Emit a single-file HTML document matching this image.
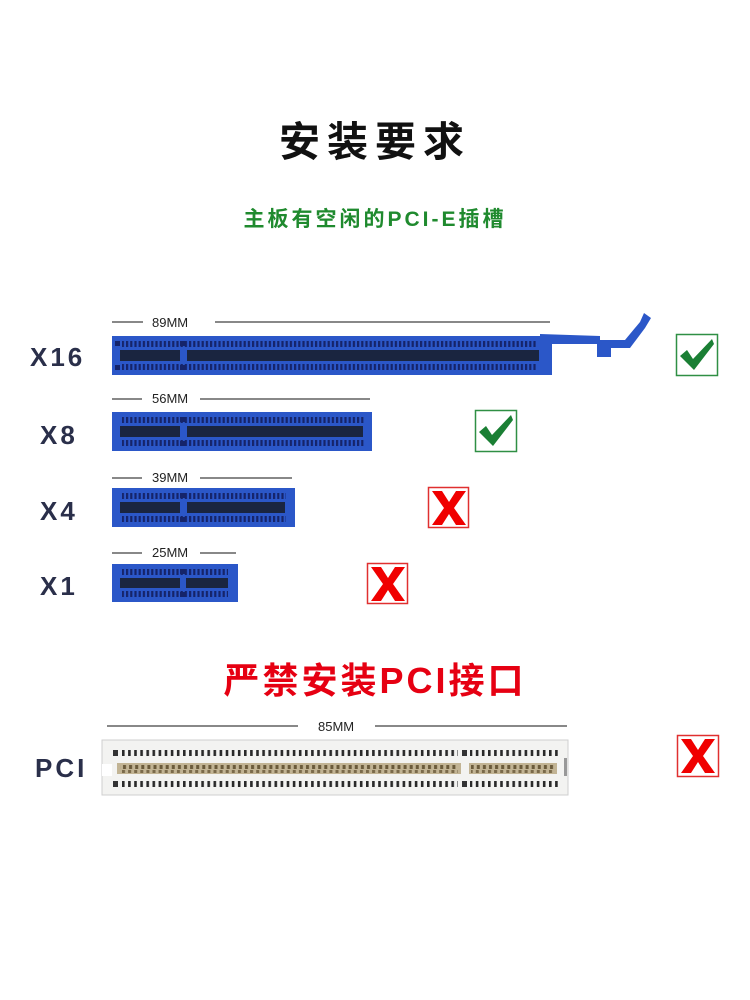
<!DOCTYPE html>
<html><head><meta charset="utf-8"><style>
body{margin:0;background:#fff;}
svg{display:block}
</style></head><body>
<svg width="750" height="1000" viewBox="0 0 750 1000" xmlns="http://www.w3.org/2000/svg">
<defs>
<pattern id="bp" x="0" y="0" width="4.2" height="10" patternUnits="userSpaceOnUse"><rect x="0" y="0" width="2.2" height="10" fill="#15246a"/></pattern>
<pattern id="gp" x="0" y="0" width="6.1" height="10" patternUnits="userSpaceOnUse"><rect x="0" y="0" width="2.6" height="10" fill="#2a2a2a"/></pattern>
<pattern id="mp" x="0" y="0" width="6.1" height="10" patternUnits="userSpaceOnUse"><rect x="0" y="0" width="3" height="3" fill="#7a6a4a"/><rect x="1" y="5" width="3" height="4" fill="#6a5a3a"/></pattern>
<path id="xm" d="M0,0 L10,0 L17,11 L24,0 L34,0 L22,17 L34,34 L24,34 L17,23 L10,34 L0,34 L12,17 Z"/>
</defs>
<g font-family="'Liberation Sans','Noto Sans CJK SC',sans-serif">
<text x="375" y="156" text-anchor="middle" font-size="41" font-weight="bold" fill="#111" letter-spacing="7">安装要求</text>
<text x="375" y="226" text-anchor="middle" font-size="21" font-weight="bold" fill="#1f8a2e" letter-spacing="3">主板有空闲的PCI-E插槽</text>

<g font-size="26" font-weight="bold" fill="#2a2f4a" letter-spacing="3">
<text x="30" y="366">X16</text><text x="40" y="444">X8</text><text x="40" y="520">X4</text><text x="40" y="595">X1</text><text x="35" y="777">PCI</text>
</g>
<g font-size="13" fill="#222" stroke="#111">
<line x1="112" y1="322" x2="143" y2="322"/><line x1="215" y1="322" x2="550" y2="322"/>
<line x1="112" y1="399" x2="142" y2="399"/><line x1="200" y1="399" x2="370" y2="399"/>
<line x1="112" y1="478" x2="142" y2="478"/><line x1="200" y1="478" x2="292" y2="478"/>
<line x1="112" y1="553" x2="142" y2="553"/><line x1="200" y1="553" x2="236" y2="553"/>
<line x1="107" y1="726" x2="298" y2="726"/><line x1="375" y1="726" x2="567" y2="726"/>
</g>
<g font-size="13" fill="#222">
<text x="152" y="327">89MM</text><text x="152" y="403">56MM</text><text x="152" y="482">39MM</text><text x="152" y="557">25MM</text><text x="318" y="731">85MM</text>
</g>

<!-- X16 -->
<path d="M540,334 L600,336 L600,344 L540,344Z" fill="#2b57c8"/>
<rect x="597" y="340" width="14" height="17" fill="#2b57c8"/>
<path d="M598,340 L625,340 L640,322 L644,313 L651,318 L645,328 L630,348 L598,348Z" fill="#2b57c8"/>
<rect x="112" y="336" width="440" height="39" fill="#2b57c8"/>
<rect x="122" y="341" width="415" height="6" fill="url(#bp)"/>
<rect x="122" y="364" width="415" height="6" fill="url(#bp)"/>
<rect x="120" y="350" width="60" height="11" fill="#1a2540"/>
<rect x="187" y="350" width="352" height="11" fill="#1a2540"/>
<rect x="115" y="341" width="5" height="5" fill="#15246a"/><rect x="115" y="365" width="5" height="5" fill="#15246a"/>
<rect x="180" y="341" width="5" height="5" fill="#15246a"/><rect x="180" y="365" width="5" height="5" fill="#15246a"/>

<!-- X8 -->
<rect x="112" y="412" width="260" height="39" fill="#2b57c8"/>
<rect x="122" y="417" width="242" height="6" fill="url(#bp)"/>
<rect x="122" y="440" width="242" height="6" fill="url(#bp)"/>
<rect x="120" y="426" width="60" height="11" fill="#1a2540"/>
<rect x="187" y="426" width="176" height="11" fill="#1a2540"/>
<rect x="180" y="417" width="5" height="5" fill="#15246a"/><rect x="180" y="441" width="5" height="5" fill="#15246a"/>

<!-- X4 -->
<rect x="112" y="488" width="183" height="39" fill="#2b57c8"/>
<rect x="122" y="493" width="164" height="6" fill="url(#bp)"/>
<rect x="122" y="516" width="164" height="6" fill="url(#bp)"/>
<rect x="120" y="502" width="60" height="11" fill="#1a2540"/>
<rect x="187" y="502" width="98" height="11" fill="#1a2540"/>
<rect x="180" y="493" width="5" height="5" fill="#15246a"/><rect x="180" y="517" width="5" height="5" fill="#15246a"/>

<!-- X1 -->
<rect x="112" y="564" width="126" height="38" fill="#2b57c8"/>
<rect x="122" y="569" width="106" height="6" fill="url(#bp)"/>
<rect x="122" y="591" width="106" height="6" fill="url(#bp)"/>
<rect x="120" y="578" width="60" height="10" fill="#1a2540"/>
<rect x="186" y="578" width="42" height="10" fill="#1a2540"/>
<rect x="180" y="569" width="5" height="5" fill="#15246a"/><rect x="180" y="592" width="5" height="5" fill="#15246a"/>

<!-- PCI -->
<text x="375" y="693" text-anchor="middle" font-size="36" font-weight="bold" fill="#e60012" letter-spacing="3">严禁安装PCI接口</text>
<rect x="102" y="740" width="466" height="55" fill="#f3f3f1" stroke="#cfcfcf"/>
<rect x="102" y="764" width="10" height="12" fill="#fff"/>
<rect x="113" y="750" width="5" height="6" fill="#333"/><rect x="113" y="781" width="5" height="6" fill="#333"/>
<rect x="122" y="750" width="336" height="6" fill="url(#gp)"/>
<rect x="122" y="781" width="336" height="6" fill="url(#gp)"/>
<rect x="462" y="750" width="5" height="6" fill="#333"/><rect x="462" y="781" width="5" height="6" fill="#333"/>
<rect x="470" y="750" width="88" height="6" fill="url(#gp)"/>
<rect x="470" y="781" width="88" height="6" fill="url(#gp)"/>
<rect x="117" y="763" width="344" height="11" fill="#c2b494"/>
<rect x="120" y="765" width="338" height="8" fill="url(#mp)"/>
<rect x="469" y="763" width="88" height="11" fill="#c2b494"/>
<rect x="471" y="765" width="84" height="8" fill="url(#mp)"/>
<rect x="564" y="758" width="3" height="18" fill="#999"/>

<!-- checks -->
<g fill="none" stroke="#2f8f44" stroke-width="1.5">
<rect x="676.5" y="334.5" width="41" height="41"/><rect x="475.5" y="410.5" width="41" height="41"/>
</g>
<path d="M680,356 L687,350 L693,359 L712,339 L714,344 L694,370 Z" fill="#1a7f34"/>
<path d="M479,432 L486,426 L492,435 L511,415 L513,420 L493,446 Z" fill="#1a7f34"/>
<!-- X marks -->
<g fill="none" stroke="#e03030" stroke-width="1.5">
<rect x="428.5" y="487.5" width="40" height="40"/><rect x="367.5" y="563.5" width="40" height="40"/><rect x="677.5" y="735.5" width="41" height="41"/>
</g>
<g fill="#f00000">
<use href="#xm" x="432" y="491" transform="translate(0,0)"/>
<use href="#xm" x="371" y="567"/>
<use href="#xm" x="681" y="739"/>
</g>
</g>
</svg>
</body></html>
